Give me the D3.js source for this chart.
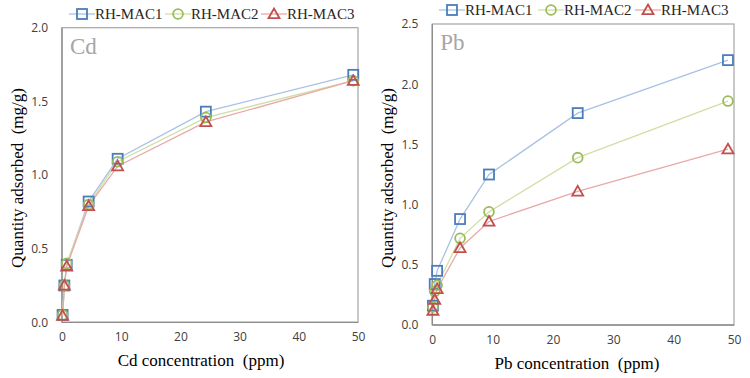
<!DOCTYPE html>
<html><head><meta charset="utf-8">
<script src="https://cdn.jsdelivr.net/npm/d3@7"></script>
<style>body{margin:0;background:#fff}
.serif{font-family:"Liberation Serif","Times New Roman","DejaVu Serif",serif}
.sans{font-family:"Open Sans","Liberation Sans",sans-serif}
</style>
</head><body>
<svg id="c" width="750" height="378"></svg>
<script>
const seriesNames = ["RH-MAC1","RH-MAC2","RH-MAC3"];
const concX = [0.1, 0.4, 0.8, 4.5, 9.4, 24.3, 49.2];
const cdMAC1 = [0.05, 0.25, 0.39, 0.82, 1.11, 1.43, 1.68];
const cdMAC2 = [0.05, 0.25, 0.40, 0.80, 1.09, 1.39, 1.64];
const cdMAC3 = [0.045, 0.25, 0.38, 0.79, 1.06, 1.36, 1.64];
const pbX = [0.1, 0.4, 0.8, 4.6, 9.4, 24.1, 49.0];
const pbMAC1 = [0.16, 0.34, 0.45, 0.88, 1.25, 1.76, 2.20];
const pbMAC2 = [0.15, 0.28, 0.33, 0.72, 0.94, 1.39, 1.86];
const pbMAC3 = [0.12, 0.21, 0.30, 0.64, 0.86, 1.11, 1.46];
const xTicks = [0,10,20,30,40,50];
const cdYTicks = [0,0.5,1.0,1.5,2.0];
const pbYTicks = [0,0.5,1.0,1.5,2.0,2.5];

const markerColors = ["#4a7ebb","#9bbb59","#c0504d"];
const lineColors = ["#a9c1e3","#cfe0a5","#e8a9a7"];
const shapes = ["square","circle","triangle"];

const svg = d3.select("#c");

function marker(g, shape, x, y, color){
  if(shape==="square"){
    g.append("rect").attr("x",x-5).attr("y",y-5).attr("width",10).attr("height",10)
      .attr("fill","none").attr("stroke",color).attr("stroke-width",1.8);
  } else if(shape==="circle"){
    g.append("circle").attr("cx",x).attr("cy",y).attr("r",4.9)
      .attr("fill","none").attr("stroke",color).attr("stroke-width",1.8);
  } else {
    g.append("path").attr("d",`M${x},${y-5.5}L${x+5.5},${y+4.2}L${x-5.5},${y+4.2}Z`)
      .attr("fill","none").attr("stroke",color).attr("stroke-width",1.8);
  }
}

function chart(opt){
  const g = svg.append("g");
  const x = d3.scaleLinear().domain([0,50]).range([opt.l, opt.r]);
  const y = d3.scaleLinear().domain([0,opt.ymax]).range([opt.b, opt.t]);
  g.append("rect").attr("x",opt.l).attr("y",opt.t).attr("width",opt.r-opt.l).attr("height",opt.b-opt.t)
    .attr("fill","none").attr("stroke","#a6a6a6").attr("stroke-width",1.2);
  g.append("line").attr("x1",opt.l).attr("x2",opt.l).attr("y1",opt.t).attr("y2",opt.b).attr("stroke","#8c8c8c").attr("stroke-width",1.3);
  g.append("line").attr("x1",opt.l).attr("x2",opt.r).attr("y1",opt.b).attr("y2",opt.b).attr("stroke","#8c8c8c").attr("stroke-width",1.3);
  const xa = g.append("g").attr("transform",`translate(0,${opt.b})`)
    .call(d3.axisBottom(x).tickValues(xTicks).tickSize(0).tickPadding(10).tickFormat(d3.format("d")));
  const ya = g.append("g").attr("transform",`translate(${opt.l},0)`)
    .call(d3.axisLeft(y).tickValues(opt.yTicks).tickSize(0).tickPadding(14).tickFormat(d3.format(".1f")));
  [xa,ya].forEach(a=>{
    a.select(".domain").remove();
    a.attr("font-family",null).attr("font-size",null);
    a.selectAll("text").attr("class","sans").attr("font-size",12).attr("fill","#404040");
  });
  const line = d3.line().x((d,i)=>x(opt.xs[i])).y(d=>y(d));
  opt.series.forEach((s,k)=>{
    g.append("path").attr("d",line(s)).attr("fill","none").attr("stroke",lineColors[k]).attr("stroke-width",1.3);
  });
  opt.series.forEach((s,k)=>{
    s.forEach((v,i)=>marker(g, shapes[k], x(opt.xs[i]), y(v), markerColors[k]));
  });
  g.append("text").attr("class","serif").attr("x",opt.l+8).attr("y",opt.t+26).text(opt.label)
    .attr("font-size",23).attr("fill","#a6a6a6");
  g.append("text").attr("class","serif").attr("x",opt.xTitleX).attr("y",opt.b+44).attr("text-anchor","middle")
    .text(opt.xTitle).attr("font-size",17).attr("fill","#000");
  g.append("text").attr("class","serif").attr("transform",`translate(${opt.yTitleX},${opt.yTitleY}) rotate(-90)`)
    .attr("text-anchor","middle").attr("dominant-baseline","central")
    .text("Quantity adsorbed\u00a0\u00a0(mg/g)").attr("font-size",17).attr("fill","#000");
  opt.legX.forEach((lx,k)=>{
    g.append("line").attr("x1",lx-13).attr("x2",lx+13).attr("y1",opt.legY).attr("y2",opt.legY).attr("stroke",lineColors[k]).attr("stroke-width",1.3);
    marker(g, shapes[k], lx, opt.legY, markerColors[k]);
    g.append("text").attr("class","serif").attr("x",lx+13).attr("y",opt.legY).attr("dominant-baseline","central")
      .text(seriesNames[k]).attr("font-size",15).attr("fill","#262626");
  });
}

chart({l:62,r:358,t:27.7,b:322.3,ymax:2.0,yTicks:cdYTicks,xs:concX,series:[cdMAC1,cdMAC2,cdMAC3],
  label:"Cd",xTitle:"Cd concentration\u00a0\u00a0(ppm)",xTitleX:201,yTitleX:17,yTitleY:178,legX:[82,178,274],legY:14});
chart({l:432.3,r:734,t:24,b:325,ymax:2.5,yTicks:pbYTicks,xs:pbX,series:[pbMAC1,pbMAC2,pbMAC3],
  label:"Pb",xTitle:"Pb concentration\u00a0\u00a0(ppm)",xTitleX:577,yTitleX:387,yTitleY:178,legX:[452,551,648],legY:10});
</script>
</body></html>
